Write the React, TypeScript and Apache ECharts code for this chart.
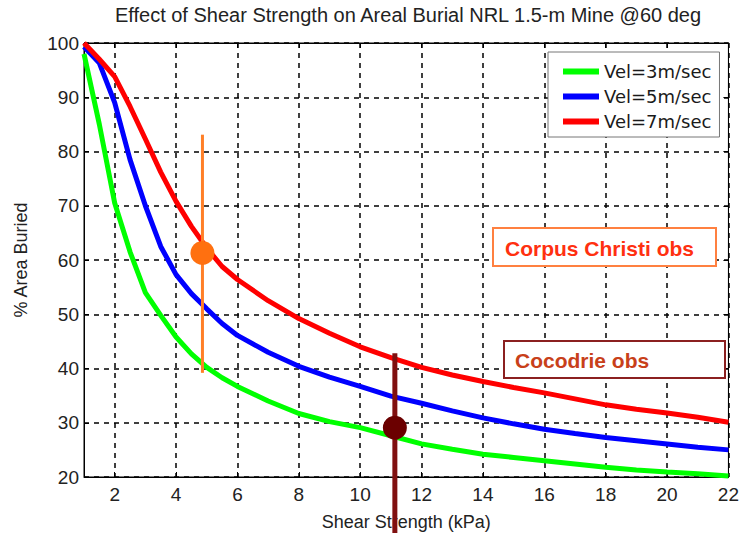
import React, { useEffect, useRef } from "react";
import * as echarts from "echarts";

const shearX = [1, 1.5, 2, 2.5, 3, 3.5, 4, 4.5, 5, 5.5, 6, 7, 8, 9, 10, 11, 12, 13, 14, 15, 16, 17, 18, 19, 20, 21, 22];
const vel3 = [98, 85, 70.5, 61.5, 54, 49.8, 45.8, 42.7, 40.2, 38.3, 36.7, 34, 31.7, 30.2, 29.1, 27.6, 26.1, 25.1, 24.2, 23.6, 23.0, 22.4, 21.8, 21.3, 20.9, 20.6, 20.2];
const vel5 = [99.3, 96.3, 89, 78.5, 70, 62.5, 57.3, 53.8, 51, 48.3, 46.1, 43, 40.4, 38.4, 36.7, 34.9, 33.6, 32.2, 30.9, 29.8, 28.8, 28.0, 27.3, 26.7, 26.1, 25.5, 25.0];
const vel7 = [100, 97, 93.8, 88.3, 82.3, 76.2, 70.8, 66.2, 62.2, 58.8, 56.4, 52.5, 49.2, 46.5, 44.0, 42.0, 40.2, 38.8, 37.6, 36.5, 35.5, 34.4, 33.3, 32.5, 31.8, 31.0, 30.1];

const seriesNames = ["Vel=3m/sec", "Vel=5m/sec", "Vel=7m/sec"];
const xTicks = [2, 4, 6, 8, 10, 12, 14, 16, 18, 20, 22];

// observations: [x, mean, low, high]
const corpusObs = [4.86, 61.3, 39.2, 83.1];
const cocodrieObs = [11.13, 29.1, 9.7, 42.8];

const FONT = "'Liberation Sans', Arial, sans-serif";
const WIDE = "'DejaVu Sans', sans-serif";

export default function App() {
  const ref = useRef<HTMLDivElement>(null);
  useEffect(() => {
    const chart = echarts.init(ref.current!, null, { renderer: "svg" });
    const pts = (ys: number[]) => shearX.map((x, i) => [x, ys[i]]);
    const curve = (name: string, ys: number[], color: string) => ({
      name,
      type: "line",
      data: pts(ys),
      showSymbol: false,
      symbol: "none",
      lineStyle: { color, width: 5 },
      itemStyle: { color },
      z: 3,
    });
    const tickCommon = {
      axisLine: { show: true, lineStyle: { color: "#000", width: 1 } },
      axisTick: { show: true, inside: true, length: 5, lineStyle: { color: "#000" } },
    };
    chart.setOption({
      animation: false,
      backgroundColor: "#fff",
      grid: { left: 84, right: 11, top: 43, bottom: 61, show: true, borderColor: "#000", borderWidth: 1, backgroundColor: "#fff" },
      graphic: [
        {
          type: "text",
          x: 408,
          y: 5,
          style: { text: "Effect of Shear Strength on Areal Burial NRL 1.5-m Mine @60 deg", font: `20px ${FONT}`, fill: "#222", align: "center", verticalAlign: "top" },
        },
        { type: "rect", shape: { x: 493, y: 228, width: 223, height: 38 }, style: { fill: "#fff", stroke: "#ff8040", lineWidth: 2 }, z: 10 },
        { type: "text", x: 505, y: 248, style: { text: "Corpus Christi obs", font: `bold 21px ${FONT}`, fill: "#ff3010", verticalAlign: "middle" }, z: 11 },
        { type: "rect", shape: { x: 504, y: 341, width: 221, height: 37 }, style: { fill: "#fff", stroke: "#8b2020", lineWidth: 2 }, z: 10 },
        { type: "text", x: 515, y: 360, style: { text: "Cocodrie obs", font: `bold 21px ${FONT}`, fill: "#c8401a", verticalAlign: "middle" }, z: 11 },
      ],
      legend: {
        data: seriesNames,
        orient: "vertical",
        left: 548,
        top: 52,
        backgroundColor: "#fff",
        borderColor: "#777",
        borderWidth: 1,
        padding: [10, 8, 6, 15],
        itemWidth: 36,
        itemHeight: 6,
        itemGap: 6,
        icon: "rect",
        textStyle: { fontFamily: WIDE, fontSize: 18, color: "#1a1a1a", lineHeight: 19 },
      },
      xAxis: [
        {
          type: "value",
          min: 1,
          max: 22,
          name: "Shear Strength (kPa)",
          nameLocation: "middle",
          nameGap: 36,
          nameTextStyle: { fontFamily: FONT, fontSize: 18, color: "#222" },
          ...tickCommon,
          axisTick: { ...tickCommon.axisTick, customValues: xTicks },
          axisLabel: { customValues: xTicks, fontFamily: FONT, fontSize: 19, color: "#222", margin: 8 },
          splitLine: { show: true, lineStyle: { color: "#000", type: [5, 5], width: 1.5 } },
        },
        {
          type: "value",
          min: 1,
          max: 22,
          position: "top",
          ...tickCommon,
          axisTick: { ...tickCommon.axisTick, customValues: xTicks },
          axisLabel: { show: false },
          splitLine: { show: false },
        },
      ],
      yAxis: [
        {
          type: "value",
          min: 20,
          max: 100,
          interval: 10,
          name: "% Area Buried",
          nameLocation: "middle",
          nameGap: 54,
          nameTextStyle: { fontFamily: FONT, fontSize: 18, color: "#222" },
          ...tickCommon,
          axisLabel: { fontFamily: FONT, fontSize: 19, color: "#222", margin: 5 },
          splitLine: { show: true, lineStyle: { color: "#000", type: [5, 5], width: 1.5 } },
        },
        {
          type: "value",
          min: 20,
          max: 100,
          interval: 10,
          position: "right",
          ...tickCommon,
          axisLabel: { show: false },
          splitLine: { show: false },
        },
      ],
      series: [
        curve(seriesNames[0], vel3, "#00ff00"),
        curve(seriesNames[1], vel5, "#0000ff"),
        curve(seriesNames[2], vel7, "#ff0000"),
        {
          type: "line",
          data: [[corpusObs[0], corpusObs[3]], [corpusObs[0], corpusObs[2]]],
          symbol: "none",
          lineStyle: { color: "#ff7f27", width: 3 },
          clip: false,
          z: 5,
        },
        {
          type: "scatter",
          data: [[corpusObs[0], corpusObs[1]]],
          symbolSize: 24,
          itemStyle: { color: "#ff7010", opacity: 1 },
          z: 6,
        },
        {
          type: "line",
          data: [[cocodrieObs[0], cocodrieObs[3]], [cocodrieObs[0], cocodrieObs[2]]],
          symbol: "none",
          lineStyle: { color: "#801010", width: 5 },
          clip: false,
          z: 5,
        },
        {
          type: "scatter",
          data: [[cocodrieObs[0], cocodrieObs[1]]],
          symbolSize: 24,
          itemStyle: { color: "#6b0000", opacity: 1 },
          z: 6,
        },
      ],
    });
    return () => chart.dispose();
  }, []);
  return <div ref={ref} style={{ width: 742, height: 538, position: "absolute", left: 0, top: 0 }} />;
}
